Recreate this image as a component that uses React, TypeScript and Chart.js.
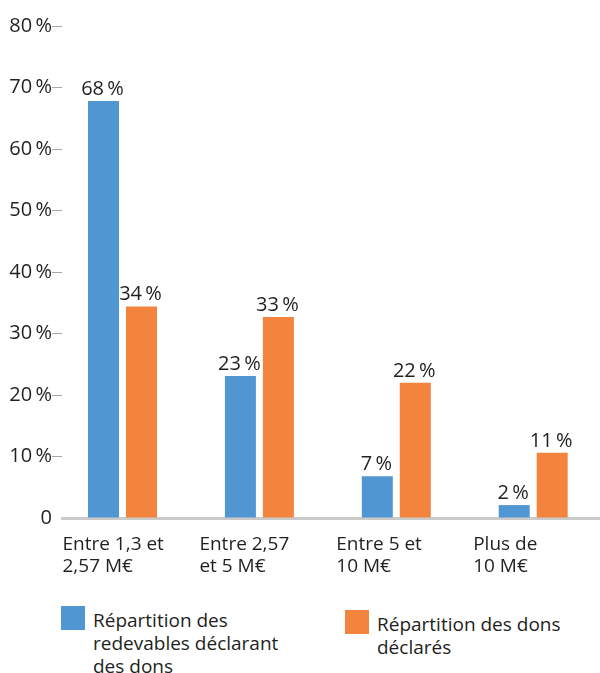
import React, { useEffect, useRef } from "react";
import { Chart, registerables } from "chart.js";

Chart.register(...registerables);

// ---- data ----
const categories: string[][] = [
  ["Entre 1,3 et", "2,57 M€"],
  ["Entre 2,57", "et 5 M€"],
  ["Entre 5 et", "10 M€"],
  ["Plus de", "10 M€"],
];
const redevables: number[] = [67.8, 23.1, 6.8, 2.1];
const dons: number[] = [34.4, 32.7, 22.0, 10.6];
const legendRedevables: string[] = ["Répartition des", "redevables déclarant", "des dons"];
const legendDons: string[] = ["Répartition des dons", "déclarés"];
const yMax = 80;
const yStep = 10;

// ---- styles ----
const BLUE = "#5096d2";
const ORANGE = "#f3843e";
const TEXT = "#231f20";
const FONT = '"Open Sans", sans-serif';
const NUM_SIZE = 20;
const TEXT_SIZE = 19;

const pct = (v: number) => `${Math.round(v)}\u2009%`;

const valueLabels = {
  id: "valueLabels",
  afterDatasetsDraw(chart: any) {
    const ctx = chart.ctx;
    ctx.save();
    ctx.font = `${NUM_SIZE}px ${FONT}`;
    ctx.fillStyle = TEXT;
    ctx.textAlign = "center";
    ctx.textBaseline = "alphabetic";
    chart.data.datasets.forEach((ds: any, di: number) => {
      const meta = chart.getDatasetMeta(di);
      meta.data.forEach((el: any, i: number) => {
        const v = ds.data[i].y;
        ctx.fillText(pct(v), el.x - 1, el.y - 6);
      });
    });
    ctx.restore();
  },
};

export default function App() {
  const ref = useRef<HTMLCanvasElement | null>(null);

  useEffect(() => {
    if (!ref.current) return;
    const chart = new Chart(ref.current, {
      type: "bar",
      data: {
        datasets: [
          {
            label: legendRedevables.join(" "),
            data: redevables.map((v, i) => ({ x: i, y: v })),
            backgroundColor: BLUE,
            categoryPercentage: 0.555,
            barPercentage: 0.816,
          },
          {
            label: legendDons.join(" "),
            data: dons.map((v, i) => ({ x: i, y: v })),
            backgroundColor: ORANGE,
            categoryPercentage: 0.555,
            barPercentage: 0.816,
          },
        ] as any,
      },
      options: {
        animation: false,
        responsive: false,
        maintainAspectRatio: false,
        layout: { padding: { top: 26, left: 0, right: 0, bottom: 0 } },
        plugins: { legend: { display: false }, tooltip: { enabled: false } },
        scales: {
          x: {
            type: "linear",
            min: -0.442,
            max: 3.488,
            offset: false,
            grid: { display: true, drawOnChartArea: false, drawTicks: false, color: "rgba(0,0,0,0)" },
            border: { display: true, color: "#cacaca", width: 3 },
            ticks: {
              stepSize: 1,
              includeBounds: false,
              autoSkip: false,
              maxRotation: 0,
              minRotation: 0,
              align: "start",
              labelOffset: -60,
              padding: 16,
              color: TEXT,
              font: { family: FONT, size: TEXT_SIZE, lineHeight: 1.14 },
              callback: (v: any) => categories[Math.round(Number(v))] ?? "",
            },
            afterFit: (s: any) => {
              s.height = 82;
              s.paddingLeft = 0;
              s.paddingRight = 0;
            },
          } as any,
          y: {
            min: 0,
            max: yMax,
            grid: {
              display: true,
              drawOnChartArea: false,
              drawTicks: true,
              tickLength: 10,
              tickWidth: 1,
              tickColor: (c: any) => (c.tick && c.tick.value === 0 ? "rgba(0,0,0,0)" : "#a8a8a8"),
            },
            border: { display: false },
            ticks: {
              stepSize: yStep,
              padding: 0,
              color: TEXT,
              font: { family: FONT, size: NUM_SIZE },
              callback: (v: any) => (Number(v) === 0 ? "0" : pct(Number(v))),
            },
            afterFit: (s: any) => {
              s.width = 62;
            },
          } as any,
        },
      },
      plugins: [valueLabels],
    });
    return () => chart.destroy();
  }, []);

  const textStyle: React.CSSProperties = {
    position: "absolute",
    fontFamily: FONT,
    fontSize: TEXT_SIZE,
    lineHeight: "23px",
    color: TEXT,
    whiteSpace: "nowrap",
  };

  return (
    <div style={{ position: "fixed", left: 0, top: 0, width: 600, height: 673, overflow: "hidden", background: "#fff" }}>
      <canvas ref={ref} width={600} height={600} style={{ position: "absolute", left: 0, top: 0 }} />
      <div style={{ position: "absolute", left: 61, top: 606, width: 24, height: 24, background: BLUE }} />
      <div style={{ ...textStyle, left: 93, top: 609 }}>
        {legendRedevables.map((l, i) => (
          <div key={i}>{l}</div>
        ))}
      </div>
      <div style={{ position: "absolute", left: 345, top: 610, width: 24, height: 24, background: ORANGE }} />
      <div style={{ ...textStyle, left: 377, top: 613 }}>
        {legendDons.map((l, i) => (
          <div key={i}>{l}</div>
        ))}
      </div>
    </div>
  );
}
